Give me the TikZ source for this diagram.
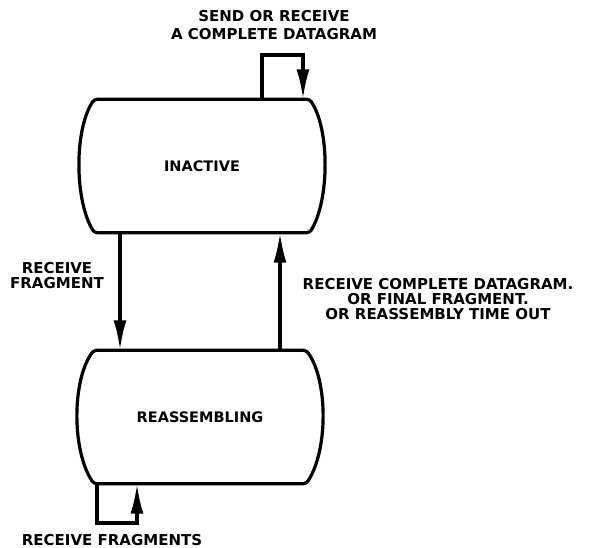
\documentclass[tikz,border=0pt]{standalone}
\usepackage{fontspec}
\setmainfont{DejaVu Sans}
\usetikzlibrary{arrows.meta}
\tikzset{
  statebox/.style={minimum width=#1, minimum height=133pt, inner sep=0pt, font=\bfseries\fontsize{14.5}{15}\selectfont},
  outline/.style={line width=3.2pt, line join=round, rounded corners=3pt},
  conn/.style={line width=3.2pt, -{Latex[length=30pt,width=13pt]}},
  lab/.style={font=\bfseries\fontsize{15}{15}\selectfont, align=center, inner sep=0pt},
}
\begin{document}
\begin{tikzpicture}[x=1pt,y=-1pt]
\useasboundingbox (0,0) rectangle (589,548);
% states
\node[statebox=215pt] (inactive) at (202,166) {INACTIVE};
\node[statebox=212pt] (reasm) at (200,417) {REASSEMBLING};
\draw[outline] (inactive.north) -- (inactive.north east)
  .. controls +(20,30) and +(20,-33) .. (inactive.south east)
  -- (inactive.south west)
  .. controls +(-20,-33) and +(-20,30) .. (inactive.north west) -- cycle;
\draw[outline] (reasm.north) -- (reasm.north east)
  .. controls +(22,30) and +(22,-33) .. (reasm.south east)
  -- (reasm.south west)
  .. controls +(-22,-33) and +(-22,30) .. (reasm.north west) -- cycle;
% guide coordinates
\coordinate (lx) at (120,0);
\coordinate (rx) at (280,0);
\coordinate (tl) at (262,55);
\coordinate (tr) at (303,55);
\coordinate (bl) at (97,523);
\coordinate (br) at (137,523);
% connectors
\draw[conn] (inactive.south -| lx) -- (reasm.north -| lx);
\draw[conn] (reasm.north -| rx) -- (inactive.south -| rx);
\draw[conn] (inactive.north -| tl) -- (tl) -- (tr) -- (inactive.north -| tr);
\draw[conn] (reasm.south -| bl) -- (bl) -- (br) -- (reasm.south -| br);
% labels
\node[lab, font=\bfseries\fontsize{15}{18}\selectfont] (toplab) at (274,25) {SEND OR RECEIVE\\A COMPLETE DATAGRAM};
\node[lab] (leftlab) at (57,276) {RECEIVE\\FRAGMENT};
\node[lab] (rightlab) at (438,299) {RECEIVE COMPLETE DATAGRAM.\\OR FINAL FRAGMENT.\\OR REASSEMBLY TIME OUT};
\node[lab] (botlab) at (112,540) {RECEIVE FRAGMENTS};
\end{tikzpicture}
\end{document}
